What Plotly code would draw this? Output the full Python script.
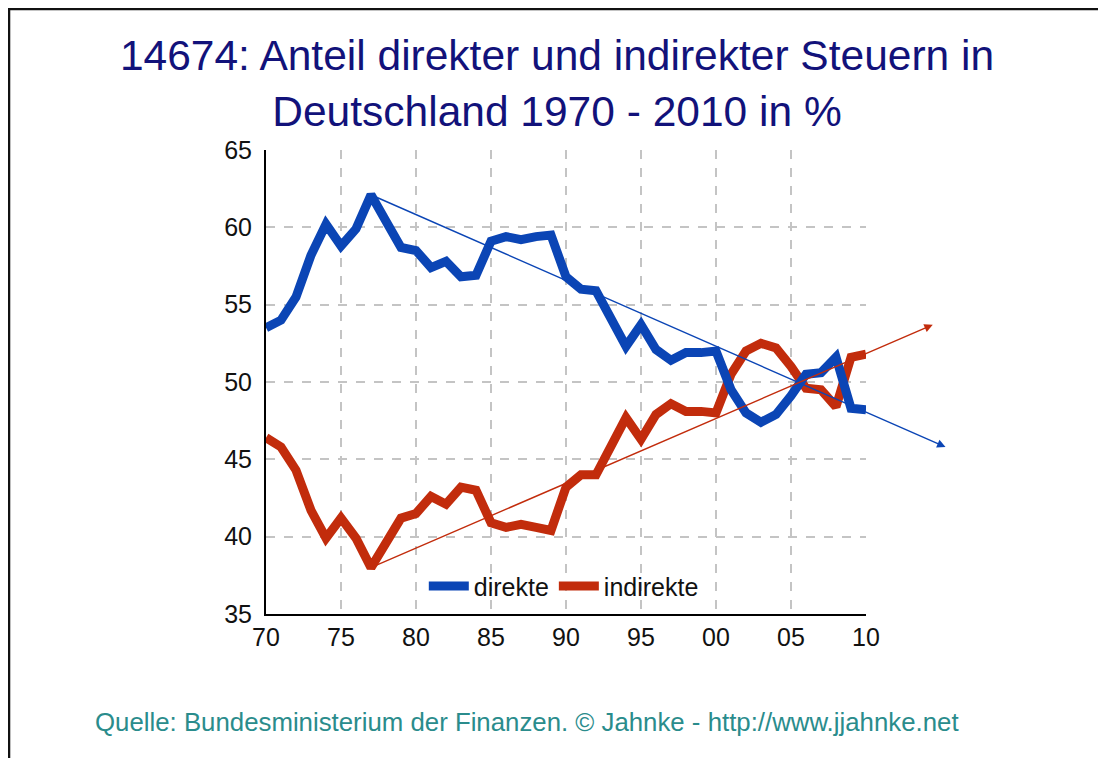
import plotly.graph_objects as go

# Anteil direkter / indirekter Steuern, 1970 - 2010
years = list(range(1970, 2011))
direkte = [53.5, 54.0, 55.5, 58.2, 60.2, 58.8, 59.9, 62.1, 60.4, 58.7,
           58.5, 57.4, 57.8, 56.8, 56.9, 59.1, 59.4, 59.2, 59.4, 59.5,
           56.8, 56.0, 55.9, 54.2, 52.3, 53.7, 52.1, 51.4, 51.9, 51.9,
           52.0, 49.5, 48.0, 47.4, 47.9, 49.1, 50.5, 50.6, 51.6, 48.3,
           48.2]
indirekte = [46.4, 45.8, 44.3, 41.7, 39.9, 41.2, 39.9, 38.0, 39.6, 41.2,
             41.5, 42.6, 42.1, 43.2, 43.0, 40.9, 40.6, 40.8, 40.6, 40.4,
             43.2, 44.0, 44.0, 45.8, 47.7, 46.3, 47.9, 48.6, 48.1, 48.1,
             48.0, 50.5, 52.0, 52.5, 52.2, 51.0, 49.6, 49.5, 48.4, 51.6,
             51.8]

# Trendpfeile: Start 1977, Spitze rechts ausserhalb der Achse
trend_years = [1977, 2015.3]
trend_direkte = [62.1, 45.8]
trend_years_ind = [1977, 2014.45]
trend_indirekte = [38.0, 53.7]

tick_years = [1970, 1975, 1980, 1985, 1990, 1995, 2000, 2005, 2010]
tick_labels = ["70", "75", "80", "85", "90", "95", "00", "05", "10"]

BLUE = "#0b45b5"
RED = "#c22c0c"
FONT = "Liberation Sans, Arial, sans-serif"

fig = go.Figure()
fig.add_trace(go.Scatter(x=years, y=indirekte, name="indirekte", mode="lines",
                         line=dict(color=RED, width=9)))
fig.add_trace(go.Scatter(x=years, y=direkte, name="direkte", mode="lines",
                         line=dict(color=BLUE, width=9)))

for tx, ty, col in [(trend_years, trend_direkte, BLUE),
                    (trend_years_ind, trend_indirekte, RED)]:
    fig.add_annotation(x=tx[1], y=ty[1], ax=tx[0], ay=ty[0],
                       xref="x", yref="y", axref="x", ayref="y",
                       text="", showarrow=True, arrowhead=2, arrowsize=1.2,
                       arrowwidth=1.4, arrowcolor=col, standoff=0)

fig.add_annotation(text="Quelle: Bundesministerium der Finanzen. © Jahnke - http://www.jjahnke.net",
                   xref="paper", yref="paper", x=-0.288, y=-0.233,
                   xanchor="left", yanchor="middle", showarrow=False,
                   font=dict(family=FONT, size=25.8, color="#2a8c8c"))

# Rahmen oben und links
fig.add_shape(type="path", xref="paper", yref="paper",
              path="M -0.4283,-0.6 L -0.4283,1.3039 L 1.5,1.3039",
              line=dict(color="#111111", width=2.5))

fig.update_layout(
    width=1098, height=750,
    margin=dict(l=258, r=240, t=142, b=144),
    paper_bgcolor="white", plot_bgcolor="white",
    font=dict(family=FONT, size=25, color="#111111"),
    title=dict(text="14674: Anteil direkter und indirekter Steuern in<br>Deutschland 1970 - 2010 in %",
               x=0.5, xref="container", xanchor="center",
               y=0.917, yref="container", yanchor="top",
               font=dict(family=FONT, size=42.5, color="#12127a")),
    showlegend=True,
    legend=dict(orientation="h", x=0.263, y=0.06, xanchor="left", yanchor="middle",
                traceorder="reversed", bgcolor="rgba(0,0,0,0)", itemwidth=40,
                font=dict(family=FONT, size=25, color="#111111")),
    xaxis=dict(range=[1970, 2010], tickvals=tick_years, ticktext=tick_labels,
               showgrid=True, gridcolor="#c4c4c4", griddash="dash", gridwidth=1.5,
               showline=True, linecolor="black", linewidth=2, zeroline=False,
               ticks="", ticklabelstandoff=0),
    yaxis=dict(range=[35, 65], dtick=5, tick0=35,
               showgrid=True, gridcolor="#c4c4c4", griddash="dash", gridwidth=1.5,
               showline=True, linecolor="black", linewidth=2, zeroline=False,
               ticks="", ticklabelstandoff=7),
)

fig.write_html("out.html")
